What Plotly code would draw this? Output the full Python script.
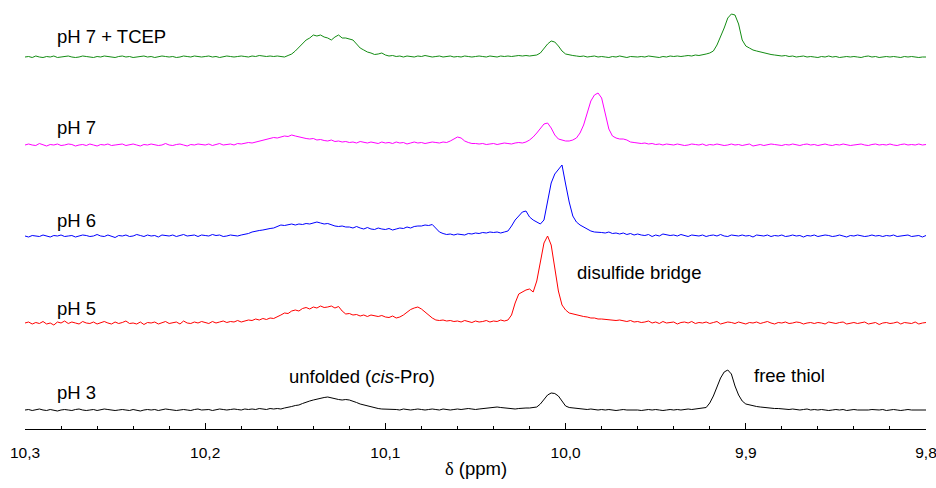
import numpy as np
import plotly.graph_objects as go

# chemical shift grid (ppm), 10.3 -> 9.8 in 0.002 ppm steps
ppm = np.round(10.3 - 0.002 * np.arange(251), 4)

series_names = ["pH 3", "pH 5", "pH 6", "pH 7", "pH 7 + TCEP"]
series_colors = ["#000000", "#ff0000", "#0000ff", "#ff00ff", "#138c13"]
stack_offsets = [19, 106, 193, 284, 372]

ph3 = [
    0, 0.5, -0.5, 0, 1, 0, -0.5, 0.5, 0, -1,
    0, 0.5, 0, -0.5, 0.5, 1, 0, -0.5, 0, 0.5,
    -0.5, 0, 1, 0.5, 0, -0.5, 0, 0.5, 0, -0.5,
    0.5, 0, -1, 0, 0.5, 0, 0.5, -0.5, 0, 1,
    0.5, 0, -0.5, 0, 0.5, 0, -0.5, 0.5, 1, 0,
    0, 0.5, -0.5, 0, 1, 0.5, 0, 0.5, 1, 0.5,
    0, 1, 0.5, 1, 0.5, 1.5, 1, 0.5, 1.5, 1,
    1.5, 1, 2, 2.5, 3.5, 4.5, 5, 6.5, 8, 9,
    10, 11, 12, 12.5, 13, 12, 11, 10.5, 10, 10.5,
    10, 9, 7.5, 6, 5, 4, 3, 2.5, 1.5, 1,
    1, 0.5, 1, 0.5, 0, 1, 0.5, 0, 0.5, 1,
    0.5, 0, 0.5, 1, 0.5, 0, 1, 0.5, 0, 0.5,
    1, 0.5, 1, 1.5, 1, 0.5, 1, 1.5, 2, 2.5,
    3, 3, 2.5, 2, 1.5, 1.5, 1, 1.5, 2, 2,
    2, 2.5, 3, 6, 11, 15, 17, 16.5, 14, 9,
    4, 2.5, 2, 1.5, 1, 1, 0.5, 1, 0.5, 0,
    0.5, 0, 0.5, 0, -0.5, 0, 0.5, 0, 0, 0.5,
    0, -0.5, 0, 0.5, 0, 0.5, 0, -0.5, 0, 0.5,
    0, 0.5, 0, 0.5, 1, 0.5, 1, 1, 1.5, 2.5,
    7, 14, 23, 32, 38, 40, 36, 24, 15, 9,
    6, 5, 4, 3.5, 3, 2.5, 2.5, 2, 1.5, 1.5,
    1, 1, 0.5, 1, 0.5, 0, 0.5, 1, 0, 0.5,
    0, 0.5, 0, -0.5, 0, 0.5, 0, 0.5, -0.5, 0,
    0.5, 0, 0, -0.5, 0, 0.5, 0, 0, 0.5, -0.5,
    0, 0.5, 0, -0.5, 0, 0.5, 0, 0, 0.5, 0,
    0,
]

ph5 = [
    0, 1, -1, 0.5, -0.5, 1.5, -1, 0, -2, 1,
    0, 2, -0.5, 1, 0, -1, 1.5, 0, -0.5, 1,
    -1, 0.5, 1.5, 0, -1, 1, -0.5, 0.5, 2, -0.5,
    0, -1, 1, -1.5, 0.5, 0, 1, -1, 0, 1.5,
    -0.5, 0, 1, -1, 2, 0, -0.5, 1, 0, 1.5,
    0.5, -0.5, 1.5, 0, 1, 2, 0.5, 1.5, 1, 2.5,
    1, 2, 3, 2.5, 4, 3, 4.5, 3.5, 5, 4.5,
    6, 8, 10, 9.5, 12, 13, 12, 14.5, 15.5, 14,
    16, 15, 17, 15.5, 16, 17, 15, 16.5, 12, 9,
    9.5, 8, 8.5, 7, 8, 6.5, 8, 7, 6.5, 7.5,
    6, 5.5, 7, 5, 6, 8, 11, 13.5, 15, 16,
    14, 11, 8, 5, 3, 2.5, 3, 2, 2.5, 1.5,
    2, 1, 2.5, 1.5, 0.5, 2, 1, 1.5, 2.5, 1,
    2, 1.5, 3, 2, 3, 8, 20, 29, 31, 33,
    34, 31, 42, 62, 80, 87, 78, 55, 32, 18,
    13, 10, 9, 8, 7, 6.5, 6, 5, 5, 4,
    4, 3.5, 3, 3, 2.5, 3, 2, 1.5, 2.5, 1,
    1.5, 0.5, 1, 2, 0, 1, -0.5, 1.5, 0, 0.5,
    1, -1, 0.5, 1, 0, 1.5, -0.5, 0.5, 0, 1,
    -0.5, 0.5, 1.5, -1, 0, 1, 0.5, -0.5, 1, 0,
    -1, 0.5, 0, 1, -0.5, 0.5, 1.5, 0, -1, 0.5,
    0, 1, -0.5, 0, 1, 0.5, -1, 0, 0.5, -0.5,
    0.5, 0, -1, 1, 0, -0.5, 0.5, 1, -1, 0,
    0.5, -0.5, 0, 1, -1, 0, 0.5, -1.5, 0, 0.5,
    -0.5, 0, 1, -1, 0.5, 0, -0.5, 1, -1, 0,
    0.5,
]

ph6 = [
    0, -1, 0.5, 0, -0.5, 1, 0, -1, 0.5, 0,
    1, -0.5, 0, 0.5, -1, 0, 1, 0.5, -0.5, 0,
    1.5, 0, -0.5, 1, 0, -1.5, 0.5, 0, 1, -0.5,
    0, 1.5, 0.5, -0.5, 1, 0, 0.5, -1, 1, 0.5,
    0, 1, -0.5, 0.5, 1.5, 0, 0.5, 1, -0.5, 1,
    0.5, 0, 1.5, 0.5, 1, -0.5, 0, 1, 0.5, 0,
    1, 1.5, 2.5, 4, 5, 5.5, 6, 7, 7.5, 8,
    9.5, 11, 10.5, 11, 12, 11, 12, 11.5, 12.5, 12,
    13, 14, 13, 12, 12.5, 11, 10, 9.5, 10, 9,
    9, 8, 9.5, 8, 7, 8.5, 7, 6.5, 8, 7,
    6.5, 7.5, 6, 7, 8, 7.5, 9, 8, 9.5, 10,
    10, 11, 10.5, 11.5, 8, 4, 2.5, 1.5, 2, 1,
    2, 1.5, 1, 2.5, 2, 3, 2.5, 3.5, 3, 4,
    3.5, 4, 3, 4, 5, 10, 16, 20, 24, 25,
    19, 16, 14, 12, 16, 34, 53, 62, 67, 71,
    52, 34, 20, 14, 11, 9, 7, 5, 4, 4,
    3.5, 3, 4, 2.5, 3, 2, 3, 1.5, 2.5, 1,
    2, 1, 0.5, 1.5, -0.5, 1, 0, 2, 1.5, 0.5,
    1, 0, 1.5, 0.5, -0.5, 1, 0.5, 0, 1, -0.5,
    0.5, 1, 0, 1.5, 0, -0.5, 1, 0.5, 0, 1,
    0, 0.5, -1, 1, 0.5, 0, 1, -0.5, 0.5, 0,
    1, -0.5, 0, 1, 0, 0.5, -1, 0.5, 0, 1,
    -0.5, 0, 1, 0.5, -0.5, 0, 1, 0, -1, 0.5,
    0, 1, 0.5, -0.5, 0, 1, 0, 0.5, -0.5, 0.5,
    0, 1, -0.5, 0, 0.5, 1, -0.5, 0, 0.5, -1,
    0.5,
]

ph7 = [
    0, 1, 0, -0.5, 1.5, 0, -1, 0.5, 0, 1,
    -0.5, 0, 1, 0.5, -1, 0, 0.5, -0.5, 1, 0,
    -1, 0.5, 0, 1, -0.5, 0, 0.5, 1, -0.5, 0,
    1, 0, -1, 0.5, 0, 1, 0.5, -0.5, 0, 1.5,
    0, -0.5, 0.5, 1, 0, -1, 0.5, 0, 1, 0.5,
    0, 1, -0.5, 0.5, 1.5, 0, 0.5, 1, 0, 1.5,
    1, 2, 2.5, 2, 3, 4, 5, 6, 6.5, 7.5,
    7, 8, 9, 8.5, 10, 9, 8, 7.5, 6.5, 6,
    6.5, 5, 5.5, 4.5, 4, 5, 3.5, 4, 3, 3.5,
    2.5, 3, 2, 3.5, 2.5, 2, 3, 2.5, 1.5, 3,
    2, 2.5, 1.5, 3, 2, 2.5, 1, 2, 3, 2,
    2.5, 1.5, 2, 3, 2.5, 2, 3, 2.5, 4, 6,
    8, 7, 4, 2.5, 1.5, 1.5, 1, 1.5, 0.5, 1,
    1.5, 0.5, 1, 2, 1.5, 1, 2, 2.5, 2, 3,
    5, 8, 12, 17, 21, 22, 17, 10, 6, 5,
    4, 4, 5, 7, 12, 20, 33, 44, 50, 52,
    47, 33, 16, 9, 7, 6, 6, 5, 3, 2.5,
    2, 1.5, 2, 1, 1.5, 0.5, 1, 0, 1, 0.5,
    0, 1, 0.5, -0.5, 0, 1, 0.5, 0, 1, -0.5,
    0.5, 0, 1, 0.5, -0.5, 0, 1, 0, 0.5, -0.5,
    0, 1, -1, 0, 0.5, -0.5, 0, 1, 0.5, 0,
    -0.5, 0.5, 0, 1, 0, -0.5, 0.5, 1, 0, 0.5,
    -0.5, 0, 1, 0, -0.5, 0.5, 0, 1, 0.5, -0.5,
    0, 0.5, 1, 0, -0.5, 0.5, 1, 0, 0.5, 0,
    1, 0, -0.5, 0.5, 1, 0, 0.5, 0, 1, 0,
    0.5,
]

ph7_tcep = [
    0, 0.5, -0.5, 1, 0, -0.5, 0.5, 0, 1, -0.5,
    0, 0.5, 1, 0, -0.5, 0, 1, 0.5, 0, -0.5,
    0.5, 0, 1, 0.5, 0, -0.5, 0.5, 1, 0, 0.5,
    -0.5, 0, 0.5, 1, 0, 0.5, -0.5, 0, 1, 0.5,
    0, 0.5, -0.5, 0, 1, 0.5, 0, 1, 0.5, 0,
    0.5, 1, 0, 0.5, -0.5, 0, 1, 0.5, 0, 0.5,
    1, 0.5, 0, 1, 0.5, 1.5, 1, 0.5, 1, 0.5,
    1, 0.5, 0, 1.5, 3, 6, 10, 14, 17, 19,
    22, 21, 22, 20, 19, 17, 20, 22, 19, 19,
    18, 17, 13, 9, 7, 5, 4, 2.5, 3, 4,
    2, 1, 1.5, 0.5, 1, 0, 1, 0.5, 0, 1,
    0.5, 1.5, 1, 0, 0.5, 1, 0, 0.5, 1, 0,
    0.5, 0, 1, 0.5, 0, 0.5, 1, 0.5, 0, 1,
    0.5, 0, 1, 0.5, 1, 0.5, 1, 1.5, 1, 1.5,
    1, 1.5, 2, 4, 9, 13, 16, 15, 11, 6,
    3, 2, 1.5, 1, 0.5, 1, 0, 0.5, 1, 0,
    0.5, 0, -0.5, 0.5, 0, 1, 0, -0.5, 0.5, 0,
    0, 0.5, 0, 1, 0.5, 0, -0.5, 0.5, 0, 1,
    0.5, 1, 0.5, 1, 1.5, 1, 2, 1.5, 2, 3,
    4, 6, 12, 20, 29, 39, 43, 42, 33, 17,
    11, 9, 7, 6, 5, 4, 3, 2.5, 2, 1.5,
    1, 1.5, 0.5, 1, 0, 0.5, 1, 0, 0.5, 0,
    -0.5, 0.5, 0, 1, 0, 0.5, -0.5, 0, 0.5, 0,
    0.5, 0, -0.5, 0.5, 1, 0, 0.5, -0.5, 0, 0.5,
    0, 0.5, 0, -0.5, 0.5, 0, 0.5, 0, -0.5, 0,
    0,
]

spectra = [ph3, ph5, ph6, ph7, ph7_tcep]

tick_vals = [10.3, 10.2, 10.1, 10.0, 9.9, 9.8]
tick_labels = ["10,3", "10,2", "10,1", "10,0", "9,9", "9,8"]

FONT = "Arial, 'Liberation Sans', sans-serif"

fig = go.Figure()
for name, color, off, vals in zip(series_names, series_colors, stack_offsets, spectra):
    n = min(len(vals), len(ppm))
    y = [v + off for v in vals[:n]]
    fig.add_trace(go.Scatter(
        x=ppm[:n], y=y, mode="lines", name=name,
        line=dict(color=color, width=1), hoverinfo="skip",
    ))

labels = [
    ("pH 7 + TCEP", 10.2834, 393),
    ("pH 7", 10.2834, 302),
    ("pH 6", 10.2834, 209),
    ("pH 5", 10.2834, 121),
    ("pH 3", 10.2834, 37),
    ("disulfide bridge", 9.9948, 157),
    ("unfolded (<i>cis</i>-Pro)", 10.1546, 53),
    ("free thiol", 9.8966, 54),
]
for txt, xv, yv in labels:
    fig.add_annotation(
        x=xv, y=yv, xref="x", yref="y", text=txt, showarrow=False,
        xanchor="left", yanchor="middle",
        font=dict(family=FONT, size=18.5, color="black"),
    )

fig.add_annotation(
    x=0.5, y=-0.092, xref="paper", yref="paper",
    text='<span style="font-family:\'Liberation Serif\', serif">δ</span> (ppm)',
    showarrow=False, xanchor="center", yanchor="middle",
    font=dict(family=FONT, size=18.5, color="black"),
)

fig.update_layout(
    width=936, height=488,
    margin=dict(l=25, r=10, t=0, b=59),
    paper_bgcolor="white", plot_bgcolor="white",
    showlegend=False,
    xaxis=dict(
        range=[10.3, 9.8], tickvals=tick_vals, ticktext=tick_labels,
        ticks="inside", ticklen=6, tickwidth=1.3, tickcolor="black",
        showline=True, linecolor="black", linewidth=1.3,
        showgrid=False, zeroline=False,
        ticklabeloverflow="allow", ticklabelstandoff=9,
        tickfont=dict(family=FONT, size=15.5, color="black"),
        minor=dict(dtick=0.02, tick0=9.8, ticks="inside", ticklen=3,
                   tickwidth=1.3, tickcolor="black", showgrid=False),
    ),
    yaxis=dict(range=[0, 429], visible=False, fixedrange=True),
)

fig.write_html("out.html")
